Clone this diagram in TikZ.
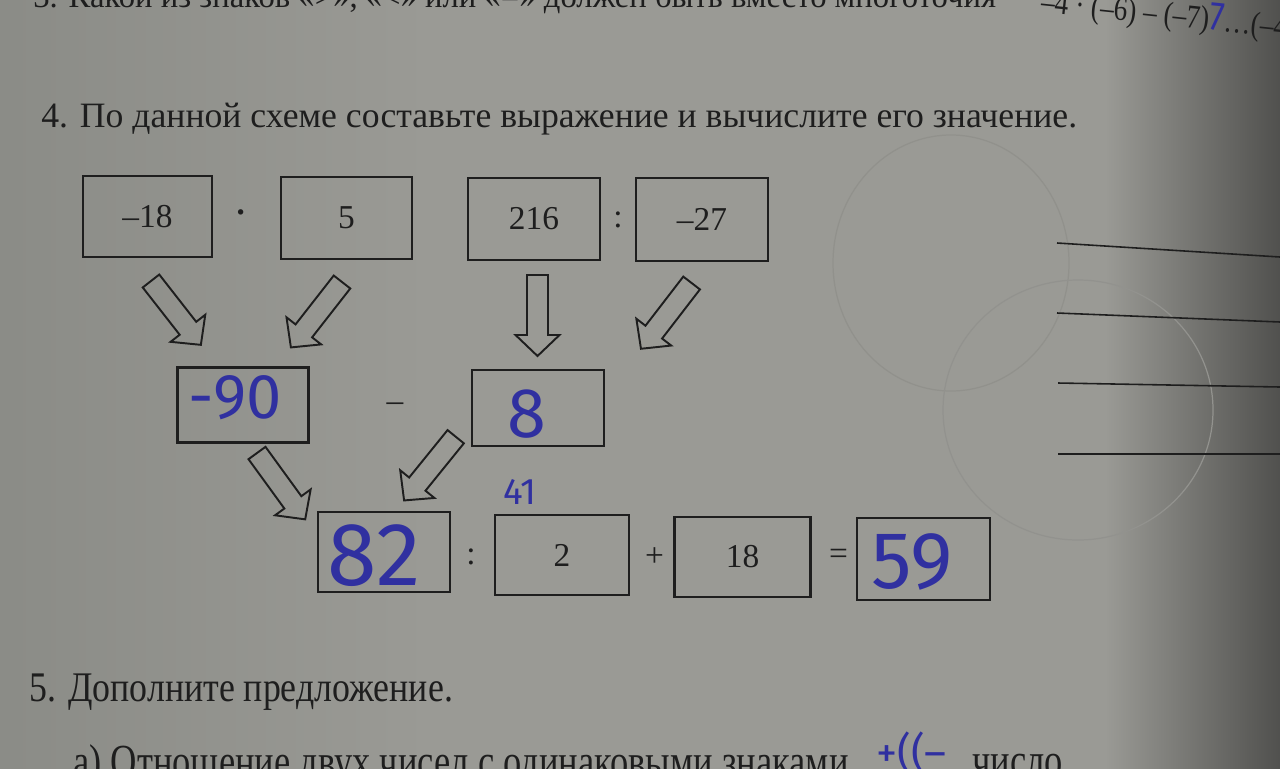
\documentclass[tikz,border=0pt]{standalone}
\usepackage{fontspec}
\setmainfont{Liberation Serif}
\newfontfamily\hand{Fira Sans}
\usetikzlibrary{calc}
\definecolor{paper}{RGB}{154,154,149}
\definecolor{paperL}{RGB}{138,139,134}
\definecolor{paperD}{RGB}{72,72,70}
\definecolor{ink}{RGB}{30,30,30}
\definecolor{pen}{RGB}{48,48,160}
\newcommand\blockarr[3]{\draw[barrow, shift={#1}, rotate=#2] (0,-10.5) -- ({#3-21},-10.5) -- ({#3-21},-22) -- (#3,0) -- ({#3-21},22) -- ({#3-21},10.5) -- (0,10.5) -- cycle;}
\begin{document}
\begin{tikzpicture}[x=0.02cm,y=-0.02cm,
  box/.style={draw=ink, line width=1.3pt, inner sep=0pt, text=ink, font=\fontsize{19}{22}\selectfont},
  op/.style={text=ink, inner sep=0pt, font=\fontsize{19}{22}\selectfont},
  handw/.style={text=pen, inner sep=0pt, font=\hand\fontsize{#1}{#1}\selectfont},
  barrow/.style={draw=ink, line width=1.1pt, line join=miter},
  rulel/.style={draw=ink, line width=0.9pt},
  ptext/.style={anchor=base west, inner sep=0pt, text=ink, font=\fontsize{#1}{#1}\selectfont}]
\useasboundingbox (0,0) rectangle (1280,768);
\clip (0,0) rectangle (1280,768);
% paper
\fill[paper] (-20,-20) rectangle (1300,790);
\shade[left color=paperL, right color=paper] (-20,-20) rectangle (430,790);
\shade[left color=paper, right color=paperD] (1105,-20) rectangle (1300,790);
% faint bleed-through circles
\draw[paper!94!black, line width=0.7pt] (951,263) ellipse [x radius=118, y radius=128];
\draw[paper!95!black, line width=0.7pt] (1078,410) ellipse [x radius=135, y radius=130];
% cut-off question 3
\node[ptext=18.6] (q3) at (33,7) {3. Какой из знаков «>», «<» или «=» должен быть вместо многоточия};
\node[ptext=19, rotate=-6, transform shape, xscale=0.82] (q3m) at (1040,12) {–4 · (–6) – (–7){\hand\color{pen}\fontsize{23}{23}\selectfont 7}…(–4};
% title
\node[ptext=20.3] (title) at (41,127) {4. По данной схеме составьте выражение и вычислите его значение.};
% top row
\node[box, minimum width=2.58cm, minimum height=1.62cm] (b1) at (147.5,216.5) {–18};
\node[box, minimum width=2.62cm, minimum height=1.64cm] (b2) at (346.5,218) {5};
\node[box, minimum width=2.64cm, minimum height=1.64cm] (b3) at (534,219) {216};
\node[box, minimum width=2.64cm, minimum height=1.66cm] (b4) at (702,219.5) {–27};
\node[op, font=\fontsize{26}{26}\selectfont] (o1) at (241,219) {·};
\node[op] (o2) at (618,220) {:};
% middle row
\node[box, minimum width=2.62cm, minimum height=1.50cm] (m1) at (243,405) {};
\node[box, minimum width=2.64cm, minimum height=1.52cm] (m2) at (538,408) {};
\node[op] (o3) at (395,407) {–};
% bottom row
\node[box, minimum width=2.64cm, minimum height=1.60cm] (c1) at (384,552) {};
\node[box, minimum width=2.68cm, minimum height=1.60cm] (c2) at (562,555) {2};
\node[box, minimum width=2.72cm, minimum height=1.60cm] (c3) at (742.6,557) {18};
\node[box, minimum width=2.66cm, minimum height=1.64cm] (c4) at (923.5,559) {};
\node[op] (o4) at (471,557) {:};
\node[op] (o5) at (654.5,557) {+};
\node[op] (o6) at (838.5,557) {=};
% block arrows
\blockarr{(151,281)}{-52}{81}
\blockarr{(342,282)}{-128}{83}
\blockarr{(537.5,275)}{-90}{81}
\blockarr{(691.6,283)}{-127.6}{83}
\blockarr{(257,453)}{-54}{82}
\blockarr{(455.7,436.7)}{-129}{82}
% handwriting
\node[handw=36] (h1) at (235,398) {-90};
\node[handw=40] (h2) at (527,414) {8};
\node[handw=51] (h3) at (374,556) {82};
\node[handw=46] (h4) at (912,562) {59};
\node[handw=21] (h5) at (520,492) {41};
% answer lines
\coordinate (l1a) at (1057,243); \coordinate (l1b) at (1280,257);
\coordinate (l2a) at (1057,313); \coordinate (l2b) at (1280,322);
\coordinate (l3a) at (1058,383); \coordinate (l3b) at (1280,387);
\coordinate (l4a) at (1058,454); \coordinate (l4b) at (1280,454);
\draw[rulel] (l1a) -- (l1b);
\draw[rulel] (l2a) -- (l2b);
\draw[rulel] (l3a) -- (l3b);
\draw[rulel] (l4a) -- (l4b);
% question 5
\node[ptext=24, transform shape, xscale=0.85] (q5) at (29,701) {5. Дополните предложение.};
\node[ptext=27, transform shape, xscale=0.77] (q5a) at (73,777) {а) Отношение двух чисел с одинаковыми знаками};
\node[handw=24, anchor=base west] (h6) at (876,767) {+((–};
\node[ptext=27, transform shape, xscale=0.77] (q5b) at (972,776) {число};
\end{tikzpicture}
\end{document}
